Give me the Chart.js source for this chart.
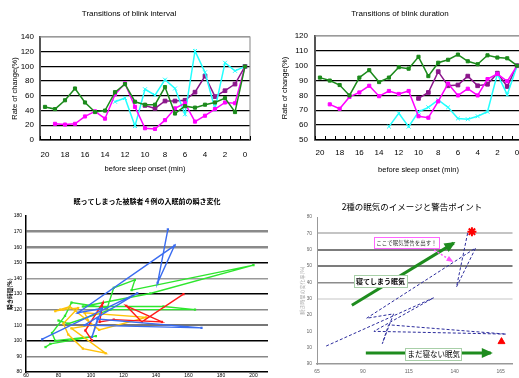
<!DOCTYPE html>
<html>
<head>
<meta charset="utf-8">
<script src="https://cdn.jsdelivr.net/npm/chart.js@4.4.1/dist/chart.umd.min.js"></script>
<style>
  html, body { margin: 0; padding: 0; background: #fff; }
  body { position: relative; width: 519px; height: 378px; overflow: hidden; }
  .panel { position: absolute; overflow: hidden; }
  canvas { display: block; }
</style>
</head>
<body>
<div class="panel" style="left:0;top:0;width:260px;height:180px"><canvas id="interval" width="260" height="180" style="width:260px;height:180px"></canvas></div>
<div class="panel" style="left:260px;top:0;width:259px;height:180px"><canvas id="duration" width="280" height="180" style="width:280px;height:180px"></canvas></div>
<div class="panel" style="left:0;top:185px;width:268px;height:193px"><canvas id="subjects" width="300" height="200" style="width:300px;height:200px"></canvas></div>
<div class="panel" style="left:280px;top:185px;width:239px;height:193px"><canvas id="warning" width="239" height="193" style="width:239px;height:193px"></canvas></div>
<script>
// ---- minutes before sleep onset ----
const minuteLabels = ['20','19','18','17','16','15','14','13','12','11','10','9','8','7','6','5','4','3','2','1','0'];

// ---- blink interval, rate of change (%) ----
const intervalGreen   = [45,42,54,70,51,38,40,65,76,52,48,48,72,36,46,44,48,51,57,38,100];
const intervalMagenta = [null,22,21,22,32,39,29,62,77,45,16,15,27,43,50,25,33,42,51,50,100];
const intervalCyan    = [null,null,null,null,null,null,null,52,57,19,69,61,82,70,35,121,92,42,105,94,100];
const intervalPurple  = [null,null,null,null,null,null,null,null,null,null,47,43,53,53,54,65,87,59,67,76,100];

// ---- blink duration, rate of change (%) ----
const durationGreen   = [92,90,87,80,92,97,89,92,99,98,106,93,102,104,107.5,103,101,107,105.5,105,100];
const durationMagenta = [null,74,71,79,82,86.5,79.5,83,81,83,66,65,76,88,80,84.5,80,91,94.5,89.5,100];
const durationCyan    = [null,null,null,null,null,null,null,59,68,59,69,72,77,72,64.5,64,66,69,94.5,80.5,100];
const durationPurple  = [null,null,null,null,null,null,null,null,null,null,78,82,96,86.5,87,93,86.5,87.5,95,86,100];

// ---- four subjects who fell asleep: (interval, duration) paths ----
const subjectBlue   = [[70,101],[128.5,130.5],[96,110],[168,108.3],[104,114],[100.6,102.5],[106.7,120.7],[92,118],[151.4,161],[141,137.2],[147.3,171.4]];
const subjectRed    = [[100.6,100.3],[96.5,106.6],[107.3,124.3],[105.3,112.1],[114,113.6],[143.6,112.1],[121.7,122.4],[131.3,112.1],[156.9,129.9]];
const subjectOrange = [[81,120],[92,121],[83,111],[86,104],[95,95],[109,92],[88,108],[100,110],[96,118],[134,115],[105,107],[87,122],[78,119],[83,120]];
const subjectGreen  = [[72,96],[75,98],[103,103],[78,100],[76,105],[84,116],[88,124.5],[110,121],[114,134],[127,139],[125,132.5],[200,148.5],[136.4,130.3],[95,122],[144.6,122],[164,120],[112,120],[86,111],[80,113]];

// ---- two kinds of drowsiness: guide arrows and markers ----
const fallAsleepArrow = [[84,126],[139.5,164]];
const stayAwakeArrow  = [[91.6,96.7],[159.7,96.7]];
const warningPointer  = [[128.8,159.8],[138.4,153.1]];
const warningStar     = [[149.4,171]];
const awakeTriangle   = [[165.5,103.7]];
const warningXTicks   = [65,90,115,140,165];

const SANS = '"Liberation Sans", Arial, sans-serif';
const JP = '"Noto Sans CJK JP", "Noto Sans CJK SC", sans-serif';
Chart.defaults.font.family = SANS;
Chart.defaults.color = '#000';

const toXY = pts => pts.map(([x, y]) => ({ x, y }));

// grey frame on the top and right of the plot area
const plotFrame = {
  id: 'plotFrame',
  beforeDatasetsDraw(chart, args, opts) {
    const { ctx, chartArea: a } = chart;
    ctx.save();
    ctx.strokeStyle = opts.color || '#999';
    ctx.lineWidth = 1.2;
    ctx.beginPath();
    ctx.moveTo(a.left, a.top);
    ctx.lineTo(a.right, a.top);
    ctx.lineTo(a.right, a.bottom);
    ctx.stroke();
    ctx.restore();
  }
};

// short tick marks standing inside the plot between categories
const innerTicks = {
  id: 'innerTicks',
  beforeDatasetsDraw(chart) {
    const xs = chart.scales.x;
    const { ctx, chartArea: a } = chart;
    const n = chart.data.labels.length;
    const step = xs.getPixelForValue(1) - xs.getPixelForValue(0);
    const start = xs.getPixelForValue(0) - step / 2;
    ctx.save();
    ctx.strokeStyle = '#000';
    ctx.lineWidth = 1;
    ctx.beginPath();
    for (let i = 0; i <= n; i++) {
      const x = Math.round(start + i * step) + 0.5;
      ctx.moveTo(x, a.bottom);
      ctx.lineTo(x, a.bottom - 4);
    }
    ctx.stroke();
    ctx.restore();
  }
};

function trendSet(values, color, style, radius) {
  return {
    data: values, borderColor: color, backgroundColor: color,
    pointBorderColor: color, pointBackgroundColor: color,
    borderWidth: 1.5, pointStyle: style, pointRadius: radius, pointBorderWidth: 1,
    tension: 0, spanGaps: false
  };
}

function trendChart(id, title, series, yMin, yMax, yStep, box) {
  return new Chart(document.getElementById(id), {
    type: 'line',
    data: {
      labels: minuteLabels,
      datasets: [
        trendSet(series[0], '#1b8a1b', 'rect', 2.2),
        trendSet(series[1], '#ff00ff', 'rect', 2.2),
        trendSet(series[2], '#22ffff', 'crossRot', 2.8),
        trendSet(series[3], '#8b158b', 'rect', 2.6)
      ]
    },
    options: {
      responsive: false, animation: false, devicePixelRatio: 1,
      layout: { padding: { left: box.padL, right: box.padR, top: 0, bottom: 0 } },
      plugins: {
        legend: { display: false }, tooltip: { enabled: false },
        plotFrame: { color: '#9a9a9a' },
        title: {
          display: true, text: title, color: '#000',
          font: { family: SANS, size: 8, weight: 'normal' },
          padding: { top: 9.2, bottom: box.titleGap }
        }
      },
      scales: {
        x: {
          offset: true,
          grid: { display: false, drawTicks: false },
          border: { color: '#000', width: 1.5 },
          ticks: {
            autoSkip: false, maxRotation: 0, padding: box.xPad, color: '#000',
            font: { size: 8 },
            callback: (v, i) => (i % 2 === 0 ? minuteLabels[i] : '')
          },
          title: {
            display: true, text: 'before sleep onset (min)', color: '#000',
            font: { size: 7.5 }, padding: { top: 0, bottom: box.xTitlePad }
          },
          afterFit: s => { s.height = 40; }
        },
        y: {
          min: yMin, max: yMax,
          grid: { drawTicks: false, color: c => (c.tick.value === yMax ? '#9a9a9a' : '#000'), lineWidth: 1.3 },
          border: { color: '#555', width: 2 },
          ticks: { stepSize: yStep, autoSkip: false, padding: box.yPad, color: '#000', font: { size: 8 } },
          title: {
            display: true, text: 'Rate of change(%)', color: '#000',
            font: { size: 7.5 }, padding: { top: 2.5, bottom: 0 }
          },
          afterFit: s => { s.width = box.yW; }
        }
      }
    },
    plugins: [plotFrame, innerTicks]
  });
}

trendChart('interval', 'Transitions of blink interval',
  [intervalGreen, intervalMagenta, intervalCyan, intervalPurple], 0, 140, 20,
  { padL: 8, padR: 10, yW: 32, yPad: 6, titleGap: 18.2, xPad: 10.2, xTitlePad: 6.5 });

trendChart('duration', 'Transitions of blink duration',
  [durationGreen, durationMagenta, durationCyan, durationPurple], 50, 120, 10,
  { padL: 18, padR: 18, yW: 37, yPad: 7, titleGap: 17.2, xPad: 8.2, xTitlePad: 5.5 });

// ---- subjects chart ----
const subjectGrid = {
  180: ['rgba(0,0,0,0)', 1], 170: ['#8a8a8a', 2.5], 160: ['#8a8a8a', 2.5], 150: ['#000', 1.5],
  140: ['#999', 1.5], 130: ['#000', 1.5], 120: ['#888', 1.5], 110: ['#777', 2],
  100: ['#000', 1.5], 90: ['#888', 1.5], 80: ['rgba(0,0,0,0)', 1]
};

function pathSet(points, color) {
  return {
    data: toXY(points), showLine: true, borderColor: color, backgroundColor: color,
    borderWidth: 1.4, pointRadius: 1.6, pointStyle: 'rect', pointBorderWidth: 0
  };
}

new Chart(document.getElementById('subjects'), {
  type: 'scatter',
  data: {
    datasets: [
      pathSet(subjectBlue, '#3a6cf0'),
      pathSet(subjectRed, '#ff1a1a'),
      pathSet(subjectOrange, '#ffc20a'),
      pathSet(subjectGreen, '#2ee62e')
    ]
  },
  options: {
    responsive: false, animation: false, devicePixelRatio: 1,
    layout: { padding: { left: 8, right: 14, top: 0, bottom: 0 } },
    plugins: {
      legend: { display: false }, tooltip: { enabled: false },
      title: {
        display: true, text: '眠ってしまった被験者４例の入眠前の瞬き変化', color: '#000',
        font: { family: JP, size: 7, weight: 'bold' }, padding: { top: 11.8, bottom: 10.8 }
      }
    },
    scales: {
      x: {
        type: 'linear', min: 60, max: 220,
        grid: { display: false, drawTicks: false },
        border: { color: '#000', width: 1.5 },
        ticks: { stepSize: 20, padding: 1, color: '#000', font: { size: 5 } },
        afterFit: s => { s.height = 13; }
      },
      y: {
        min: 80, max: 180,
        grid: {
          drawTicks: false,
          color: c => (subjectGrid[c.tick.value] || ['#888', 1])[0],
          lineWidth: c => (subjectGrid[c.tick.value] || ['#888', 1])[1]
        },
        border: { color: '#000', width: 1.5 },
        ticks: { stepSize: 10, autoSkip: false, padding: 4, color: '#000', font: { size: 5 } },
        title: {
          display: true, text: '瞬き時間(%)', color: '#000',
          font: { family: JP, size: 5.5, weight: 'bold' }, padding: { top: -1.3, bottom: 0 }
        },
        afterFit: s => { s.width = 18; }
      }
    }
  }
});

// ---- drowsiness warning chart ----
const warningGrid = {
  170: ['#c4c4c4', 2], 160: ['#7c7c7c', 2], 150: ['#7c7c7c', 2], 140: ['#8c8c8c', 1.5], 130: ['#e2e2e2', 2]
};

const warningNotes = [
  { text: 'ここで眠気警告を出す！', at: [113.7, 164.4], size: 5.5, weight: 'normal', color: '#333', border: '#ff66ff', padX: 2, h: 11 },
  { text: '寝てしまう眠気', at: [99.6, 140.8], size: 7, weight: 'bold', color: '#000', border: '#a8cfa8', padX: 2, h: 12 },
  { text: 'まだ寝ない眠気', at: [128.6, 96.1], size: 7.5, weight: 'normal', color: '#000', border: '#a8cfa8', padX: 2, h: 12 }
];

const arrowHeads = {
  id: 'arrowHeads',
  afterDatasetsDraw(chart) {
    const ctx = chart.ctx;
    chart.data.datasets.forEach((ds, i) => {
      if (!ds.arrowHead) return;
      const pts = chart.getDatasetMeta(i).data;
      const a = pts[pts.length - 2], b = pts[pts.length - 1];
      const ang = Math.atan2(b.y - a.y, b.x - a.x);
      const L = ds.arrowHead, W = ds.arrowHead * 0.55;
      const bx = b.x - Math.cos(ang) * L, by = b.y - Math.sin(ang) * L;
      ctx.save();
      ctx.fillStyle = ds.borderColor;
      ctx.beginPath();
      ctx.moveTo(b.x + Math.cos(ang) * 2, b.y + Math.sin(ang) * 2);
      ctx.lineTo(bx + Math.sin(ang) * W, by - Math.cos(ang) * W);
      ctx.lineTo(bx - Math.sin(ang) * W, by + Math.cos(ang) * W);
      ctx.closePath();
      ctx.fill();
      ctx.restore();
    });
  }
};

const noteBoxes = {
  id: 'noteBoxes',
  afterDatasetsDraw(chart) {
    const { ctx, scales: { x, y } } = chart;
    warningNotes.forEach(n => {
      const cx = x.getPixelForValue(n.at[0]);
      const cy = y.getPixelForValue(n.at[1]);
      ctx.save();
      ctx.font = `${n.weight} ${n.size}px ${JP}`;
      const w = ctx.measureText(n.text).width + n.padX * 2;
      ctx.fillStyle = '#fff';
      ctx.fillRect(cx - w / 2, cy - n.h / 2, w, n.h);
      ctx.strokeStyle = n.border;
      ctx.lineWidth = 1;
      ctx.strokeRect(Math.round(cx - w / 2) + 0.5, Math.round(cy - n.h / 2) + 0.5, Math.round(w), n.h);
      ctx.fillStyle = n.color;
      ctx.textAlign = 'center';
      ctx.textBaseline = 'middle';
      ctx.fillText(n.text, cx, cy + 0.5);
      ctx.restore();
    });
  }
};

function guideSet(points, color, width, dash, head) {
  return {
    data: toXY(points), showLine: true, borderColor: color, backgroundColor: color,
    borderWidth: width, borderDash: dash, pointRadius: 0, arrowHead: head
  };
}

new Chart(document.getElementById('warning'), {
  type: 'scatter',
  data: {
    datasets: [
      { data: toXY(warningStar), pointStyle: 'star', pointRadius: 4.5, borderColor: '#ff0000', backgroundColor: '#ff0000', pointBorderWidth: 2, showLine: false },
      { data: toXY(awakeTriangle), pointStyle: 'triangle', pointRadius: 4, borderColor: '#ff0000', backgroundColor: '#ff0000', pointBorderWidth: 1, showLine: false },
      guideSet(warningPointer, '#ff55ff', 1.5, [2, 2], 5),
      guideSet(fallAsleepArrow, '#1e8c1e', 3, [], 9),
      guideSet(stayAwakeArrow, '#1e8c1e', 3, [], 9),
      {
        data: toXY(subjectBlue), showLine: true, borderColor: '#2b2b9c', backgroundColor: '#2b2b9c',
        borderWidth: 1, borderDash: [3, 2], pointRadius: 0
      }
    ]
  },
  options: {
    responsive: false, animation: false, devicePixelRatio: 1,
    layout: { padding: { left: 27, right: 2, top: 0, bottom: 0 } },
    plugins: {
      legend: { display: false }, tooltip: { enabled: false },
      title: {
        display: true, text: '2種の眠気のイメージと警告ポイント', color: '#000',
        font: { family: JP, size: 8.5, weight: 'normal' }, padding: { top: 17, bottom: 4.8 }
      }
    },
    scales: {
      x: {
        type: 'linear', min: 65, max: 171.5,
        afterBuildTicks: s => { s.ticks = warningXTicks.map(v => ({ value: v })); },
        grid: { display: false, drawTicks: false },
        border: { color: '#999', width: 1.5 },
        ticks: { autoSkip: false, padding: 5, color: '#666', font: { size: 5 } },
        afterFit: s => { s.height = 14; }
      },
      y: {
        min: 90, max: 180,
        grid: {
          drawTicks: false,
          color: c => (warningGrid[c.tick.value] || ['rgba(0,0,0,0)', 1])[0],
          lineWidth: c => (warningGrid[c.tick.value] || ['rgba(0,0,0,0)', 1])[1]
        },
        border: { color: '#999', width: 1 },
        ticks: { stepSize: 10, autoSkip: false, padding: 5, color: '#666', font: { size: 5 } },
        title: {
          display: true, text: '瞬き時間の変化率(%)', color: '#aaa',
          font: { family: JP, size: 5 }, padding: { top: -8, bottom: 0 }
        },
        afterFit: s => { s.width = 10; }
      }
    }
  },
  plugins: [arrowHeads, noteBoxes]
});
</script>
</body>
</html>
